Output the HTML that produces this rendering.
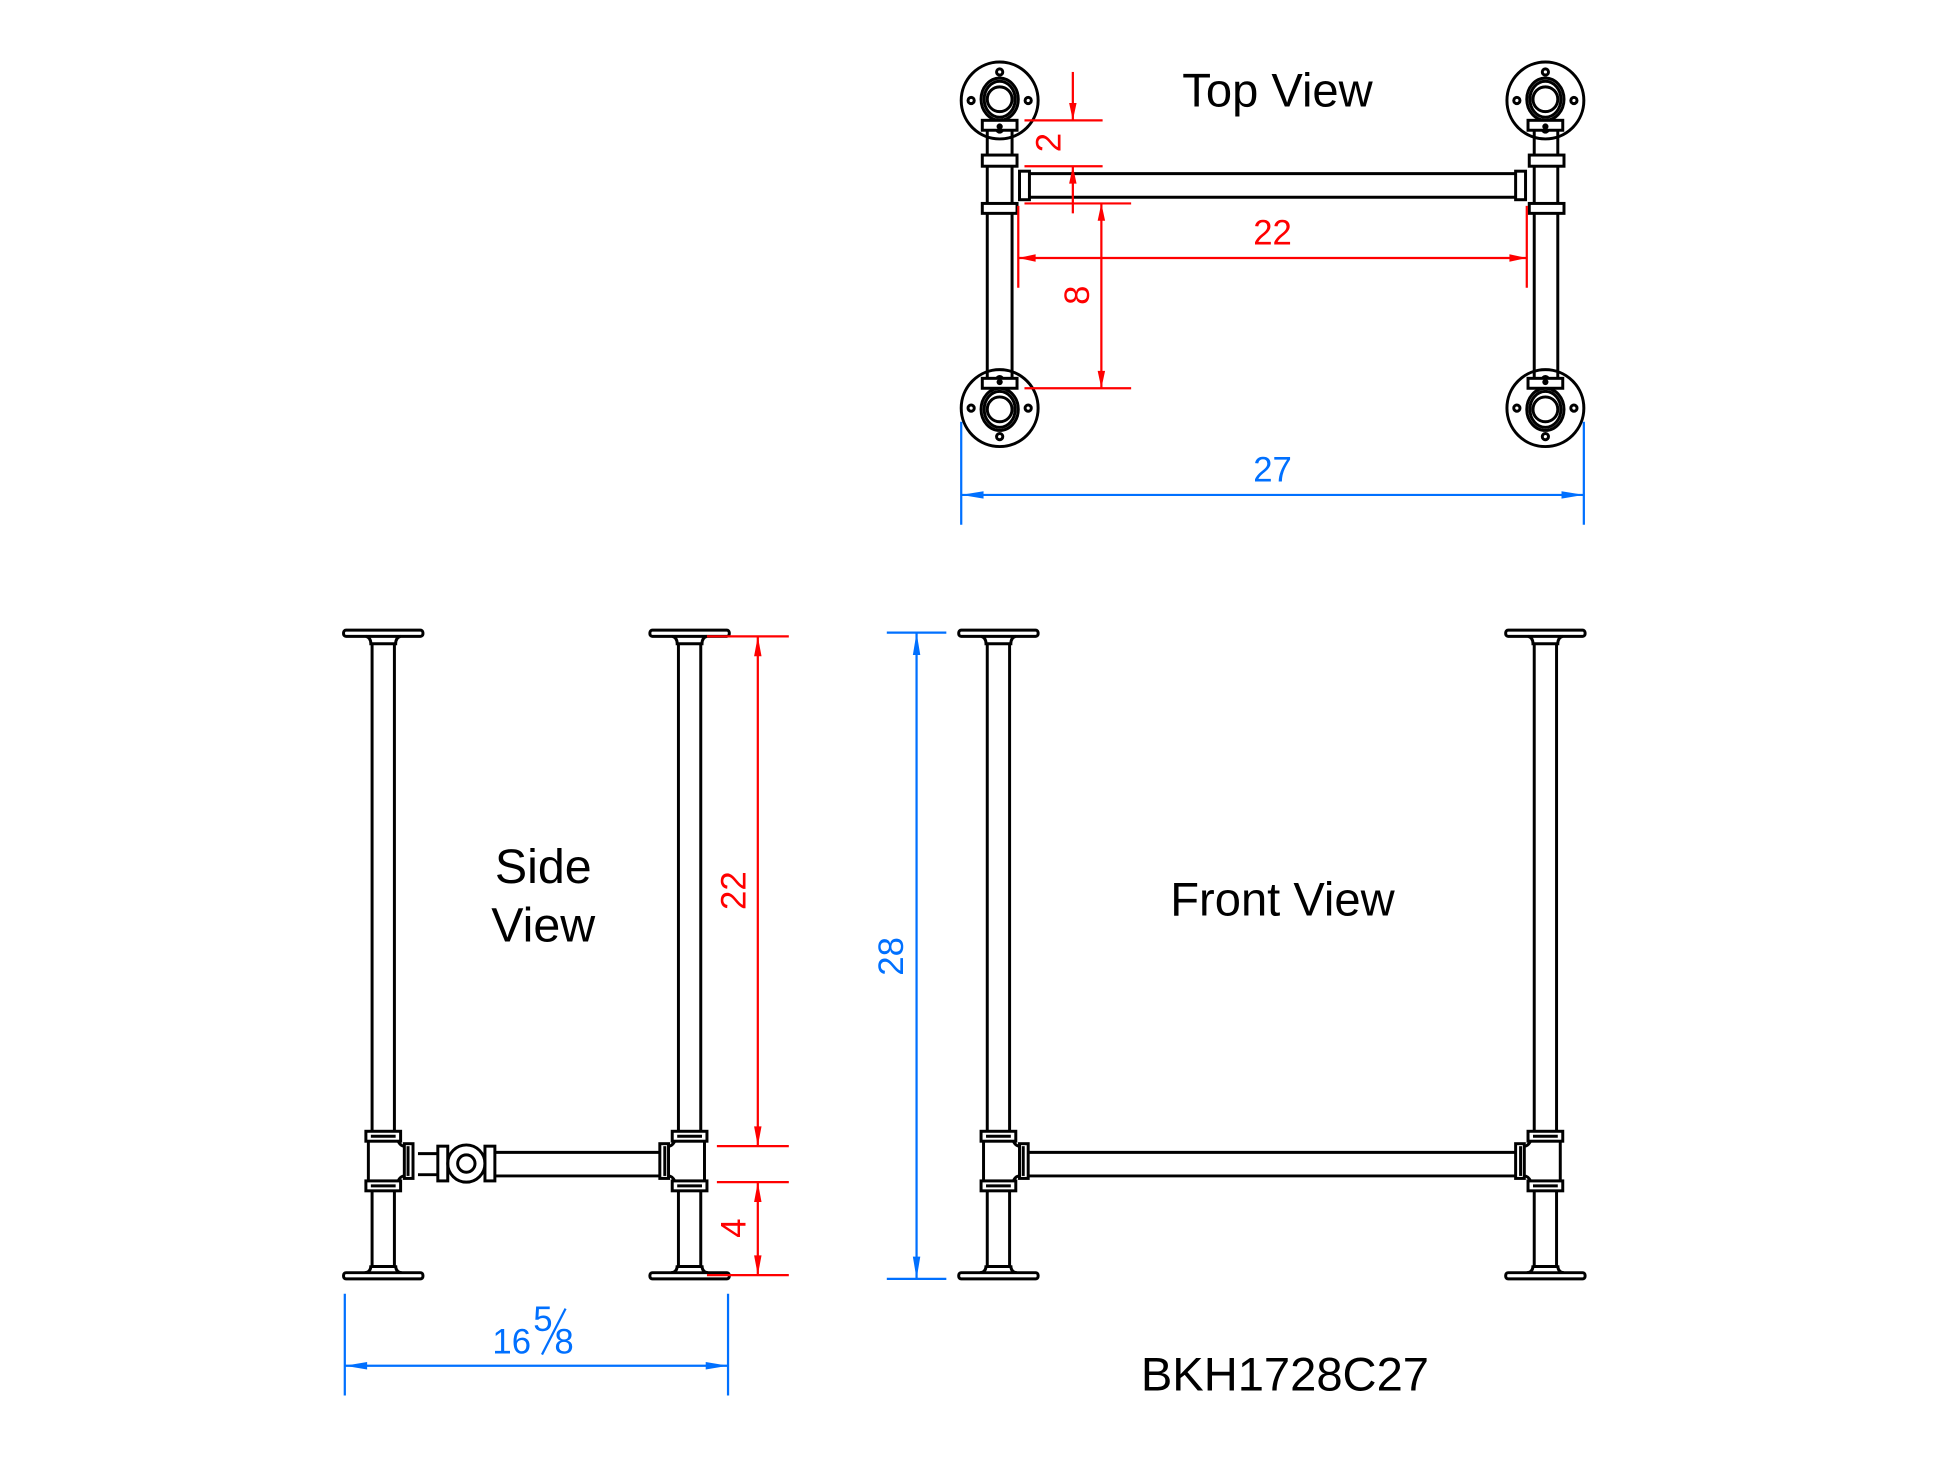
<!DOCTYPE html>
<html><head><meta charset="utf-8"><style>
html,body{margin:0;padding:0;background:#fff;}
svg{display:block;}
.k{stroke:#000;stroke-width:2.4;fill:none;}
.kw{stroke:#000;stroke-width:2.4;fill:#fff;}
.r{stroke:#ff0000;stroke-width:1.8;fill:none;}
.b{stroke:#0070ff;stroke-width:1.8;fill:none;}
.t{font-family:"Liberation Sans",sans-serif;fill:#000;}
.dr{font-family:"Liberation Sans",sans-serif;fill:#ff0000;font-size:28px;}
.db{font-family:"Liberation Sans",sans-serif;fill:#0070ff;font-size:28px;}
</style></head><body>
<svg width="1946" height="1460" viewBox="0 0 1569 1177" preserveAspectRatio="none" xmlns="http://www.w3.org/2000/svg">
<defs>
<g id="leg">
  <rect class="kw" x="-32" y="508" width="64" height="5" rx="2"/>
  <path class="k" d="M-14,513 Q-10,514 -10,519 L10,519 Q10,514 14,513"/>
  <line class="k" x1="-9" y1="519" x2="-9" y2="913"/><line class="k" x1="9" y1="519" x2="9" y2="913"/>
  <rect class="kw" x="-14" y="912" width="28" height="8"/><line class="k" x1="-10" y1="916" x2="10" y2="916"/>
  <line class="k" x1="-12" y1="920" x2="-12" y2="952"/>
  <path class="k" d="M12,920 Q14,924 17,924 M12,952 Q14,948 17,948"/>
  <rect class="kw" x="17" y="922" width="7" height="28"/><line class="k" x1="20" y1="924" x2="20" y2="948"/>
  <rect class="kw" x="-14" y="952" width="28" height="8"/><line class="k" x1="-10" y1="956" x2="10" y2="956"/>
  <line class="k" x1="-9" y1="960" x2="-9" y2="1021"/><line class="k" x1="9" y1="960" x2="9" y2="1021"/>
  <path class="k" d="M-9,1021 L9,1021 M-10,1020 Q-10,1026 -15,1026 M10,1020 Q10,1026 15,1026"/>
  <rect class="kw" x="-32" y="1026" width="64" height="5" rx="2"/>
</g>
<g id="fl">
  <circle class="k" cx="0" cy="0" r="31"/>
  <circle class="k" cx="0" cy="-23" r="2.5"/><circle class="k" cx="0" cy="23" r="2.5"/>
  <circle class="k" cx="-23" cy="0" r="2.5"/><circle class="k" cx="23" cy="0" r="2.5"/>
  <ellipse class="k" cx="0" cy="-1" rx="15" ry="17"/><ellipse class="k" cx="0" cy="-1" rx="12.5" ry="14.5"/>
  <circle class="k" cx="0" cy="-1" r="10"/>
  <rect class="kw" x="-14" y="16" width="28" height="8"/>
  <circle cx="0" cy="21" r="2.5" fill="#000"/>
</g>
</defs>

<!-- ===== TOP VIEW ===== -->
<text class="t" x="1030" y="86" font-size="38" text-anchor="middle">Top View</text>
<line class="k" x1="796" y1="105" x2="796" y2="312"/><line class="k" x1="816" y1="105" x2="816" y2="312"/>
<line class="k" x1="1237" y1="105" x2="1237" y2="312"/><line class="k" x1="1256" y1="105" x2="1256" y2="312"/>
<line class="k" x1="824" y1="140" x2="1226" y2="140"/><line class="k" x1="824" y1="159" x2="1226" y2="159"/>
<rect class="kw" x="822" y="138" width="8" height="23"/><rect class="kw" x="1222" y="138" width="8" height="23"/>
<rect class="kw" x="792" y="125" width="28" height="9"/><rect class="kw" x="792" y="164" width="28" height="8"/>
<rect class="kw" x="1233" y="125" width="28" height="9"/><rect class="kw" x="1233" y="164" width="28" height="8"/>
<use href="#fl" transform="translate(806,81)"/>
<use href="#fl" transform="translate(1246,81)"/>
<use href="#fl" transform="translate(806,329) scale(1,-1)"/>
<use href="#fl" transform="translate(1246,329) scale(1,-1)"/>
<line class="r" x1="826" y1="97" x2="889" y2="97"/><line class="r" x1="826" y1="134" x2="889" y2="134"/>
<line class="r" x1="865" y1="58" x2="865" y2="97"/><path d="M865,97 l-3,-14 l6,0z" fill="#f00"/>
<line class="r" x1="865" y1="134" x2="865" y2="172"/><path d="M865,134 l-3,14 l6,0z" fill="#f00"/>
<text class="dr" transform="translate(855,115) rotate(-90)" text-anchor="middle">2</text>
<line class="r" x1="826" y1="164" x2="912" y2="164"/><line class="r" x1="826" y1="313" x2="912" y2="313"/>
<line class="r" x1="888" y1="164" x2="888" y2="313"/>
<path d="M888,164 l-3,14 l6,0z M888,313 l-3,-14 l6,0z" fill="#f00"/>
<text class="dr" transform="translate(878,238) rotate(-90)" text-anchor="middle">8</text>
<line class="r" x1="821" y1="166" x2="821" y2="232"/><line class="r" x1="1231" y1="166" x2="1231" y2="232"/>
<line class="r" x1="821" y1="208" x2="1231" y2="208"/>
<path d="M821,208 l14,-3 l0,6z M1231,208 l-14,-3 l0,6z" fill="#f00"/>
<text class="dr" x="1026" y="197" text-anchor="middle">22</text>
<line class="b" x1="775" y1="340" x2="775" y2="423"/><line class="b" x1="1277" y1="340" x2="1277" y2="423"/>
<line class="b" x1="775" y1="399" x2="1277" y2="399"/>
<path d="M775,399 l18,-3 l0,6z M1277,399 l-18,-3 l0,6z" fill="#0070ff"/>
<text class="db" x="1026" y="388" text-anchor="middle">27</text>

<!-- ===== SIDE VIEW ===== -->
<use href="#leg" transform="translate(309,0)"/>
<use href="#leg" transform="translate(556,0) scale(-1,1)"/>
<line class="k" x1="337" y1="930" x2="353" y2="930"/><line class="k" x1="337" y1="947" x2="353" y2="947"/>
<rect class="kw" x="353" y="924" width="8" height="28"/>
<rect class="kw" x="391" y="924" width="8" height="28"/>
<circle class="k" cx="376" cy="938" r="15"/><circle class="k" cx="376" cy="938" r="7"/>
<line class="k" x1="399" y1="929" x2="532" y2="929"/><line class="k" x1="399" y1="948" x2="532" y2="948"/>
<text class="t" x="438" y="712" font-size="39" text-anchor="middle">Side</text>
<text class="t" x="438" y="759" font-size="39" text-anchor="middle">View</text>
<line class="r" x1="570" y1="513" x2="636" y2="513"/><line class="r" x1="578" y1="924" x2="636" y2="924"/>
<line class="r" x1="578" y1="953" x2="636" y2="953"/><line class="r" x1="570" y1="1028" x2="636" y2="1028"/>
<line class="r" x1="611" y1="513" x2="611" y2="924"/>
<path d="M611,513 l-3,16 l6,0z M611,924 l-3,-16 l6,0z" fill="#f00"/>
<text class="dr" transform="translate(601,718) rotate(-90)" text-anchor="middle">22</text>
<line class="r" x1="611" y1="953" x2="611" y2="1028"/>
<path d="M611,953 l-3,16 l6,0z M611,1028 l-3,-16 l6,0z" fill="#f00"/>
<text class="dr" transform="translate(601,990) rotate(-90)" text-anchor="middle">4</text>
<line class="b" x1="278" y1="1043" x2="278" y2="1125"/><line class="b" x1="587" y1="1043" x2="587" y2="1125"/>
<line class="b" x1="278" y1="1101" x2="587" y2="1101"/>
<path d="M278,1101 l18,-3 l0,6z M587,1101 l-18,-3 l0,6z" fill="#0070ff"/>
<text class="db" x="397" y="1091" font-size="27">16</text>
<text class="db" x="430" y="1073" font-size="28">5</text>
<line class="b" x1="437" y1="1092" x2="456" y2="1055"/>
<text class="db" x="447" y="1091" font-size="28">8</text>

<!-- ===== FRONT VIEW ===== -->
<use href="#leg" transform="translate(805,0)"/>
<use href="#leg" transform="translate(1246,0) scale(-1,1)"/>
<line class="k" x1="829" y1="929" x2="1222" y2="929"/><line class="k" x1="829" y1="948" x2="1222" y2="948"/>
<text class="t" x="1034" y="738" font-size="38" text-anchor="middle">Front View</text>
<line class="b" x1="715" y1="510" x2="763" y2="510"/><line class="b" x1="715" y1="1031" x2="763" y2="1031"/>
<line class="b" x1="739" y1="510" x2="739" y2="1031"/>
<path d="M739,510 l-3,18 l6,0z M739,1031 l-3,-18 l6,0z" fill="#0070ff"/>
<text class="db" transform="translate(728,771) rotate(-90)" text-anchor="middle">28</text>
<text class="t" x="1036" y="1121" font-size="38" text-anchor="middle">BKH1728C27</text>
</svg>
</body></html>
